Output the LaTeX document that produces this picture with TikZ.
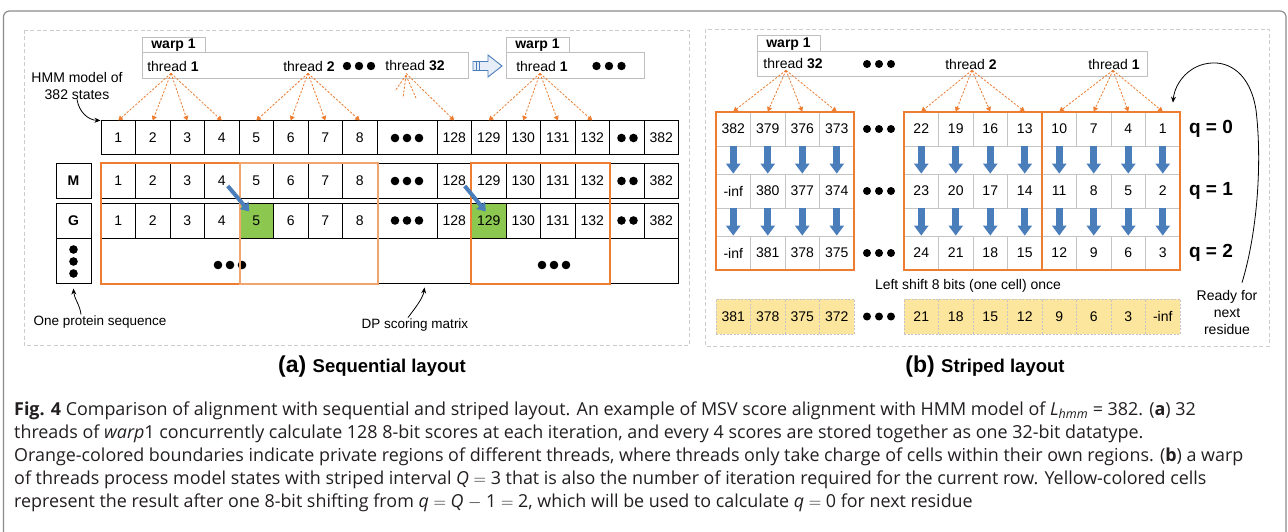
\documentclass[tikz,border=0pt]{standalone}
\usepackage{fontspec}
\setmainfont{Liberation Sans}
\newfontfamily\capfont{Open Sans}
\usetikzlibrary{arrows.meta,calc}
\definecolor{orng}{HTML}{ED7D31}
\definecolor{orngl}{HTML}{F2A46E}
\definecolor{stblue}{HTML}{4A7EBB}
\definecolor{cellgreen}{HTML}{8CC850}
\definecolor{cellyellow}{HTML}{FCE59C}
\definecolor{gridgray}{HTML}{C4C4C4}
\definecolor{boxgray}{HTML}{BFBFBF}
\definecolor{panelgray}{HTML}{CCCCCC}
\definecolor{framegray}{HTML}{8C8C8C}
\definecolor{hollowfill}{HTML}{E8EEF7}
\definecolor{captext}{HTML}{231F20}
\newcommand\fsz[2]{\fontsize{#1}{#2}\selectfont}
% one row of the sequential DP layout: prefix, y centre, cell height
\newcommand\statesrow[3]{%
  \foreach \i in {1,...,8} \node[cell,minimum height=#3] (#1\i) at ({101+(\i-0.5)*34.5},#2) {\i};
  \node[cell,minimum width=60pt,minimum height=#3] (#1d) at (407,#2) {};
  \foreach \i/\v in {9/128,10/129,11/130,12/131,13/132}
    \node[cell,minimum height=#3] (#1\i) at ({437+(\i-8.5)*34.5},#2) {\v};
  \node[cell,minimum height=#3] (#1e) at (626.75,#2) {};
  \node[cell,minimum height=#3] (#1f) at (661.25,#2) {382};
  \foreach \dx in {-12,0,12} \fill (407+\dx,#2) circle (4.3pt);
  \foreach \dx in {-6,6} \fill (627.5+\dx,#2) circle (4.3pt);
}
% a run of striped cells: prefix, x origin, y centre, style, index/value list
\newcommand\stripe[5]{%
  \foreach \c/\v in {#5} \node[#4] (#1\c) at ({#2+(\c-0.5)*34.5},#3) {\v};
}
\begin{document}
\begin{tikzpicture}[x=1pt,y=-1pt,
  every node/.style={inner sep=0pt,font=\fsz{14}{17}},
  cell/.style={draw=black,line width=1pt,minimum width=34.5pt,minimum height=34pt},
  rcell/.style={draw=gridgray,line width=0.8pt,minimum width=34.5pt,minimum height=34pt},
  ycell/.style={draw=gridgray,dash pattern=on 2pt off 1.5pt,line width=0.8pt,fill=cellyellow,minimum width=34.5pt,minimum height=35pt},
  boxframe/.style={draw=boxgray,line width=1pt},
  tharrow/.style={draw=orng,line width=0.8pt,dash pattern=on 2.2pt off 1.6pt,-{Triangle[width=5pt,length=4.5pt]}},
  thstub/.style={draw=orng,line width=0.8pt,dash pattern=on 2.2pt off 1.6pt},
  region/.style={draw=orng,line width=2pt},
  downarrow/.style={draw=stblue,line width=7pt,-{Triangle[width=14pt,length=10pt]}},
  diagarrow/.style={draw=stblue,line width=4pt,-{Triangle[width=11pt,length=8pt]}},
  note/.style={draw=black,line width=0.8pt,-{Stealth[width=5pt,length=6pt]}}
]
\clip (0,0) rectangle (1288,532);
\fill[white] (0,0) rectangle (1288,532);
\draw[framegray,line width=1.2pt,rounded corners=6pt] (3.5,11) rectangle (1286,600);
\draw[panelgray,line width=0.8pt,dash pattern=on 4pt off 2.5pt] (24,30) rectangle (689,345);
\draw[panelgray,line width=0.8pt,dash pattern=on 4pt off 2.5pt] (705,29) rectangle (1269,346);

% ---------- (a) sequential layout ----------
\node[boxframe,minimum width=326pt,minimum height=26pt] (wboxA) at (305,66) {};
\node[boxframe,minimum width=63pt,minimum height=15pt] (wtabA) at (173.5,45.5) {\textbf{warp 1}};
\node (thA1) at (173,66) {thread \textbf{1}};
\node (thA2) at (309,66) {thread \textbf{2}};
\node (thA32) at (415,66) {thread \textbf{32}};
\foreach \dx in {-12,0,12} \fill (359+\dx,66) circle (4.2pt);

\node[boxframe,minimum width=138pt,minimum height=26pt] (wboxB) at (575,66) {};
\node[boxframe,minimum width=63pt,minimum height=15pt] (wtabB) at (537.5,45.5) {\textbf{warp 1}};
\node (thB1) at (542,66) {thread \textbf{1}};
\foreach \dx in {-12.5,0,12.5} \fill (609+\dx,66) circle (4.2pt);

% hollow block arrow between the two warps
\draw[stblue,fill=hollowfill,line width=0.9pt] (473,61.5) -- (488,61.5) -- (488,55) -- (502,66) -- (488,77) -- (488,70.5) -- (473,70.5) -- cycle;
\draw[stblue,line width=0.7pt] (476,61.5) -- (476,70.5) (479,61.5) -- (479,70.5);

\statesrow{t}{138}{34pt}
\statesrow{m}{181}{34pt}
\statesrow{g}{220.5}{35pt}
\node[cell,minimum width=577.5pt,minimum height=45pt] (low) at (389.75,260.5) {};
\node[cell,fill=cellgreen,minimum height=35pt] (g5hi) at (g5) {5};
\node[cell,fill=cellgreen,minimum height=35pt] (g10hi) at (g10) {129};
\foreach \dx in {-12,0,12} \fill (230+\dx,265) circle (4.3pt);
\foreach \dx in {-12,0,12} \fill (554+\dx,265) circle (4.3pt);

\node[cell,minimum width=35pt,minimum height=34pt] (lm) at (73.5,181) {\textbf{M}};
\node[cell,minimum width=35pt,minimum height=35pt] (lg) at (73.5,220.5) {\textbf{G}};
\node[cell,minimum width=35pt,minimum height=45pt] (ld) at (73.5,260.5) {};
\foreach \dy in {-12,0,12} \fill (73.5,261.5+\dy) circle (4.3pt);

% private regions of the threads
\draw[region] (m1.north west) rectangle (m4.east |- low.south);
\draw[region,draw=orngl] ($(m5.north west)+(1.2,0)$) rectangle (m8.east |- low.south);
\draw[region] (m10.north west) rectangle (m13.east |- low.south);

\draw[diagarrow] ($(m4.center)+(6,5)$) -- ($(g5.center)+(-7,-9)$);
\draw[diagarrow] ($(m9.center)+(10.5,5)$) -- ($(g10.center)+(-3,-9)$);

% threads to the states they own
\coordinate (sA1) at ($(thA1.south)+(-2,2)$);
\coordinate (sA2) at ($(thA2.south)+(-1,2)$);
\coordinate (sA32) at ($(thA32.south)+(-9,2)$);
\coordinate (sB1) at ($(thB1.south)+(-2,2)$);
\foreach \i in {1,...,4} \draw[tharrow] (sA1) -- (t\i.north);
\foreach \i in {5,...,8} \draw[tharrow] (sA2) -- (t\i.north);
\draw[tharrow] (sA32) -- (t9.north);
\coordinate (stub1) at (395,91);
\coordinate (stub2) at (403,98);
\coordinate (stub3) at (416,98);
\foreach \s in {1,2,3} \draw[thstub] ($(sA32)+(0,2)$) -- (stub\s);
\foreach \i in {10,...,13} \draw[tharrow] (sB1) -- (t\i.north);

\node[align=center] (hmm) at (77,85.5) {HMM model of\\382 states};
\draw[note] (hmm.south) .. controls (79,112) and (88,120) .. (t1.north west);
\node[font=\fsz{13.5}{16}] (ops) at (100,322) {One protein sequence};
\draw[note] ($(ops.north)+(-19,-1)$) .. controls (80,305) and (74,298) .. ($(ld.south)+(0,5)$);
\node[font=\fsz{13.5}{16}] (dps) at (415,325) {DP scoring matrix};
\draw[note] ($(dps.north)+(-7,-1)$) .. controls (416,307) and (423,298) .. ($(low.south west)+(324,4)$);

\node (tta) at (372,367) {\fsz{23}{25}\bfseries (a) \fsz{18.5}{22}Sequential layout};

% ---------- (b) striped layout ----------
\node[boxframe,minimum width=390pt,minimum height=25pt] (wboxC) at (952,64.5) {};
\node[boxframe,minimum width=63pt,minimum height=16pt] (wtabC) at (788.5,44) {\textbf{warp 1}};
\node (thC32) at (793,64) {thread \textbf{32}};
\node (thC2) at (971,64) {thread \textbf{2}};
\node (thC1) at (1114,64) {thread \textbf{1}};
\foreach \dx in {-12,0,12} \fill (879+\dx,64) circle (4pt);

\stripe{qa0}{716}{129}{rcell}{1/382,2/379,3/376,4/373}
\stripe{qb0}{904}{129}{rcell}{1/22,2/19,3/16,4/13}
\stripe{qc0}{1042}{129}{rcell}{1/10,2/7,3/4,4/1}
\stripe{qa1}{716}{191}{rcell}{1/-inf,2/380,3/377,4/374}
\stripe{qb1}{904}{191}{rcell}{1/23,2/20,3/17,4/14}
\stripe{qc1}{1042}{191}{rcell}{1/11,2/8,3/5,4/2}
\stripe{qa2}{716}{253}{rcell}{1/-inf,2/381,3/378,4/375}
\stripe{qb2}{904}{253}{rcell}{1/24,2/21,3/18,4/15}
\stripe{qc2}{1042}{253}{rcell}{1/12,2/9,3/6,4/3}

\foreach \b in {a,b,c} \foreach \c in {1,...,4} {
  \draw[downarrow] (q\b0\c.south) -- (q\b1\c.north);
  \draw[downarrow] (q\b1\c.south) -- (q\b2\c.north);
}
\draw[region] (qa01.north west) rectangle (qa24.south east);
\draw[region] (qb01.north west) rectangle (qb24.south east);
\draw[region] (qc01.north west) rectangle (qc24.south east);
\foreach \y in {129,191,253,316.5} \foreach \dx in {-12,0,12} \fill (879+\dx,\y) circle (4pt);

\node[font=\fsz{19}{22}\bfseries] (q0) at (1211,129) {q = 0};
\node[font=\fsz{19}{22}\bfseries] (q1) at (1211,191) {q = 1};
\node[font=\fsz{19}{22}\bfseries] (q2) at (1211,253) {q = 2};

\coordinate (sC32) at ($(thC32.south)+(-7,1)$);
\coordinate (sC2) at ($(thC2.south)+(1,1)$);
\coordinate (sC1) at ($(thC1.south)+(-1,1)$);
\foreach \c in {1,...,4} {
  \draw[tharrow] (sC32) -- (qa0\c.north);
  \draw[tharrow] (sC2) -- (qb0\c.north);
  \draw[tharrow] (sC1) -- (qc0\c.north);
}

\node (lsh) at (968,286) {Left shift 8 bits (one cell) once};
\stripe{ya}{716}{316.5}{ycell}{1/381,2/378,3/375,4/372}
\stripe{yb}{904}{316.5}{ycell}{1/21,2/18,3/15,4/12,5/9,6/6,7/3,8/-inf}

\node[align=center] (rdy) at (1227,312) {Ready for\\next\\residue};
\draw[note] ($(rdy.north)+(15,-7)$) .. controls (1258,230) and (1262,160) .. (1256,110)
  .. controls (1250,72) and (1228,62) .. (1212,63)
  .. controls (1190,64) and (1175,82) .. ($(qc04.north east)+(-7.5,-9)$);

\node (ttb) at (985,367) {\fsz{23}{25}\bfseries (b) \fsz{18.5}{22}Striped layout};

% ---------- caption ----------
\begin{scope}[every node/.style={inner sep=0pt,anchor=base west,text=captext,font=\capfont\fsz{17.9}{22}}]
\node (cap1) at (14,415) {\textbf{Fig. 4} Comparison of alignment with sequential and striped layout. An example of MSV score alignment with HMM model of \textit{L}\textsubscript{\textit{hmm}} = 382. (\textbf{a}) 32};
\node (cap2) at (14,438) {threads of \textit{warp}1 concurrently calculate 128 8-bit scores at each iteration, and every 4 scores are stored together as one 32-bit datatype.};
\node (cap3) at (14,461) {Orange-colored boundaries indicate private regions of different threads, where threads only take charge of cells within their own regions. (\textbf{b}) a warp};
\node (cap4) at (14,484) {of threads process model states with striped interval \textit{Q} $=$ 3 that is also the number of iteration required for the current row. Yellow-colored cells};
\node (cap5) at (14,507) {represent the result after one 8-bit shifting from \textit{q} $=$ \textit{Q} $-$ 1 $=$ 2, which will be used to calculate \textit{q} $=$ 0 for next residue};
\end{scope}
\end{tikzpicture}
\end{document}
